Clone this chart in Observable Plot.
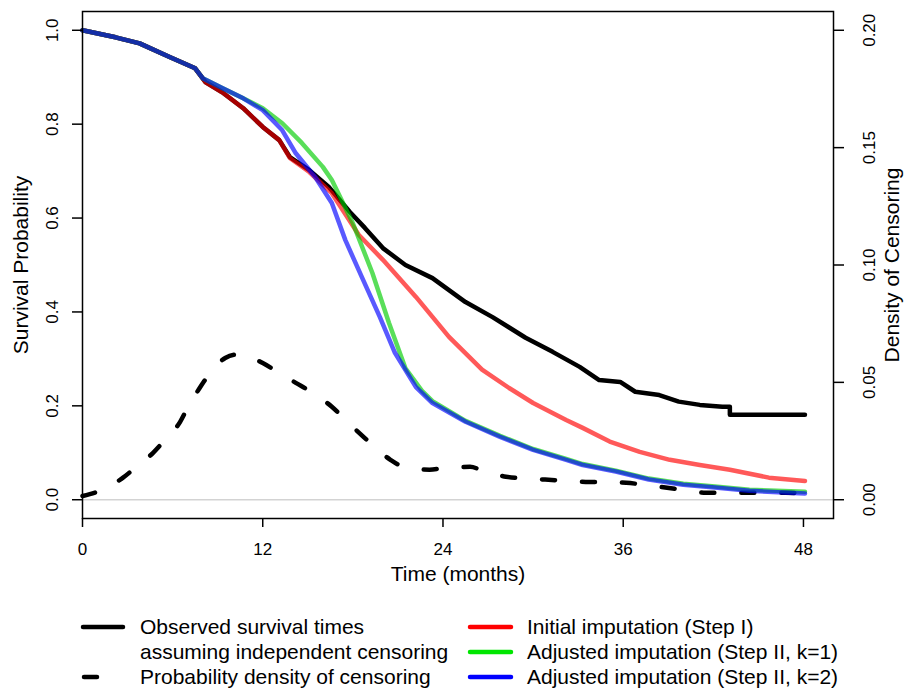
<!DOCTYPE html>
<html><head><meta charset="utf-8">
<script src="https://cdn.jsdelivr.net/npm/d3@7"></script>
<script src="https://cdn.jsdelivr.net/npm/@observablehq/plot@0.6"></script>
<style>
body{margin:0;background:#fff;font-family:"Liberation Sans",Arial,Helvetica,sans-serif;}
#wrap{position:relative;width:904px;height:689px;overflow:hidden;}
#legend{position:absolute;left:0;top:600px;width:904px;height:89px;}
.item{position:absolute;font-size:21px;line-height:24px;white-space:nowrap;color:#000;}
#legsvg{position:absolute;left:0;top:0;}
</style></head><body><div id="wrap"><div id="chart"></div><div id="legend"></div></div>
<script>
// ---- data ----
const xTicks = [0, 12, 24, 36, 48];
const yTicks = [0, 0.2, 0.4, 0.6, 0.8, 1.0];
const densityTicks = [0, 0.05, 0.10, 0.15, 0.20];
const densityToSurvival = 5; // right axis 0.20 corresponds to left axis 1.0

const observedTime = [0, 2.2, 3.8, 5.8, 7.5, 8.2, 9.3, 10.7, 12.0, 13.1, 13.8, 15.1, 16.4, 17.8, 18.8, 20.0, 21.5, 23.3, 25.5, 27.3, 29.5, 31.3, 33.1, 34.4, 35.8, 36.8, 38.4, 39.7, 41.1, 42.6, 43.1, 43.1, 48.1];
const observedSurv = [1.0, 0.985, 0.972, 0.943, 0.919, 0.889, 0.868, 0.834, 0.794, 0.766, 0.730, 0.702, 0.666, 0.613, 0.579, 0.536, 0.500, 0.472, 0.421, 0.389, 0.345, 0.315, 0.283, 0.255, 0.251, 0.230, 0.223, 0.209, 0.202, 0.198, 0.198, 0.181, 0.181];

const initialTime = [0, 2.2, 3.8, 5.8, 7.5, 8.2, 9.3, 10.7, 12.0, 13.1, 13.8, 15.1, 16.6, 18.4, 20.0, 22.2, 24.4, 26.6, 28.4, 30.0, 32.2, 33.3, 35.1, 37.1, 39.1, 41.1, 43.1, 45.7, 48.1];
const initialSurv = [1.0, 0.985, 0.972, 0.943, 0.919, 0.889, 0.868, 0.834, 0.794, 0.766, 0.728, 0.698, 0.653, 0.564, 0.511, 0.432, 0.347, 0.277, 0.238, 0.206, 0.170, 0.153, 0.124, 0.102, 0.085, 0.074, 0.064, 0.047, 0.040];

const adjusted1Time = [0, 2.2, 3.8, 5.8, 7.5, 8.0, 9.3, 10.7, 12.0, 13.3, 14.6, 16.0, 16.6, 18.0, 19.3, 20.4, 21.5, 22.6, 23.3, 25.5, 27.8, 30.0, 32.2, 33.3, 35.5, 37.7, 40.0, 42.1, 44.4, 48.1];
const adjusted1Surv = [1.0, 0.985, 0.972, 0.943, 0.919, 0.898, 0.877, 0.855, 0.834, 0.802, 0.760, 0.709, 0.681, 0.589, 0.483, 0.377, 0.280, 0.232, 0.210, 0.168, 0.136, 0.108, 0.087, 0.076, 0.062, 0.045, 0.034, 0.028, 0.021, 0.017];

const adjusted2Time = [0, 2.2, 3.8, 5.8, 7.5, 8.0, 9.3, 10.7, 12.0, 13.3, 14.2, 15.5, 16.6, 17.5, 18.6, 19.8, 20.8, 22.2, 23.3, 25.5, 27.8, 30.0, 32.2, 33.3, 35.5, 37.7, 40.0, 42.1, 44.4, 48.1];
const adjusted2Surv = [1.0, 0.985, 0.972, 0.943, 0.919, 0.898, 0.877, 0.855, 0.830, 0.787, 0.738, 0.687, 0.632, 0.553, 0.474, 0.389, 0.313, 0.240, 0.206, 0.166, 0.134, 0.106, 0.085, 0.074, 0.060, 0.043, 0.032, 0.026, 0.019, 0.013];

const densityTime = [0, 1.3, 2.7, 3.5, 4.7, 5.5, 6.5, 7.0, 7.8, 8.5, 9.5, 10.2, 10.7, 12.0, 13.1, 14.2, 15.3, 16.6, 17.3, 18.4, 19.3, 20.5, 21.4, 23.1, 24.2, 25.8, 26.8, 28.2, 29.5, 30.8, 32.2, 33.5, 34.8, 36.2, 37.4, 38.8, 40.0, 41.5, 42.6, 44.1, 45.4, 46.8, 48.1];
const densityValue = [0.0016, 0.0042, 0.0094, 0.0136, 0.0200, 0.0256, 0.0332, 0.0392, 0.0476, 0.0540, 0.0604, 0.0618, 0.0618, 0.0582, 0.0540, 0.0498, 0.0456, 0.0396, 0.0354, 0.0286, 0.0234, 0.0170, 0.0140, 0.0128, 0.0136, 0.0140, 0.0120, 0.0098, 0.0090, 0.0086, 0.0080, 0.0076, 0.0076, 0.0072, 0.0064, 0.0052, 0.0042, 0.0030, 0.0030, 0.0030, 0.0030, 0.0030, 0.0026];

const legendLeftLabels = ["Observed survival times", "assuming independent censoring", "Probability density of censoring"];
const legendRightLabels = ["Initial imputation (Step I)", "Adjusted imputation (Step II, k=1)", "Adjusted imputation (Step II, k=2)"];
const legendRightColors = ["#ff0000", "#00e600", "#0000ff"];

const xLabel = "Time (months)";
const yLabel = "Survival Probability";
const y2Label = "Density of Censoring";

// ---- build rows ----
const rows = (t, s) => t.map((d, i) => ({t: d, s: s[i]}));
const observedRows = rows(observedTime, observedSurv);
const initialRows = rows(initialTime, initialSurv);
const adj1Rows = rows(adjusted1Time, adjusted1Surv);
const adj2Rows = rows(adjusted2Time, adjusted2Surv);
const densityRows = rows(densityTime, densityValue);

const tickFont = 17;
const titleFont = 21;

const chart = Plot.plot({
  width: 904,
  height: 600,
  marginLeft: 82,
  marginRight: 71,
  marginTop: 11,
  marginBottom: 82,
  style: {fontFamily: '"Liberation Sans", Arial, Helvetica, sans-serif', background: "white", color: "black"},
  x: {domain: [0, 50]},
  y: {domain: [-0.04, 1.04]},
  marks: [
    Plot.ruleY([0], {stroke: "#d3d3d3", strokeWidth: 1.5}),
    Plot.line(densityRows, {x: "t", y: d => d.s * densityToSurvival, stroke: "black", strokeWidth: 4.5,
      strokeDasharray: "13,27", strokeLinecap: "round", curve: "monotone-x"}),
    Plot.line(observedRows, {x: "t", y: "s", stroke: "black", strokeWidth: 4.5, strokeLinejoin: "round"}),
    Plot.line(initialRows, {x: "t", y: "s", stroke: "#ff0000", strokeOpacity: 0.65, strokeWidth: 4.5, strokeLinejoin: "round"}),
    Plot.line(adj1Rows, {x: "t", y: "s", stroke: "#00cc00", strokeOpacity: 0.65, strokeWidth: 4.5, strokeLinejoin: "round"}),
    Plot.line(adj2Rows, {x: "t", y: "s", stroke: "#0000ff", strokeOpacity: 0.65, strokeWidth: 4.5, strokeLinejoin: "round"}),
    Plot.frame({stroke: "black", strokeWidth: 1.5}),
    Plot.axisX(xTicks, {anchor: "bottom", tickSize: 9, tickPadding: 15, tickFormat: d => String(d), fontSize: tickFont, label: null, strokeWidth: 1.5}),
    Plot.axisY(yTicks, {anchor: "left", tickSize: 10, tickFormat: () => "", label: null, strokeWidth: 1.5}),
    Plot.axisY(densityTicks.map(d => d * densityToSurvival), {anchor: "right", tickSize: 10, tickFormat: () => "", label: null, strokeWidth: 1.5}),
    Plot.text(yTicks, {y: d => d, text: d => d.toFixed(1), frameAnchor: "left", textAnchor: "middle", dx: -30, rotate: -90, fontSize: tickFont}),
    Plot.text(densityTicks, {y: d => d * densityToSurvival, text: d => d.toFixed(2), frameAnchor: "right", textAnchor: "middle", dx: 36, rotate: -90, fontSize: tickFont}),
    Plot.text([xLabel], {text: d => d, frameAnchor: "bottom", dy: 62, fontSize: titleFont}),
    Plot.text([yLabel], {text: d => d, frameAnchor: "left", textAnchor: "middle", dx: -61, rotate: -90, fontSize: titleFont}),
    Plot.text([y2Label], {text: d => d, frameAnchor: "right", textAnchor: "middle", dx: 59, rotate: -90, fontSize: titleFont})
  ]
});
document.getElementById("chart").appendChild(chart);

// ---- legend ----
const legend = document.getElementById("legend");
const NS = "http://www.w3.org/2000/svg";
const lsvg = document.createElementNS(NS, "svg");
lsvg.setAttribute("id", "legsvg");
lsvg.setAttribute("width", 904);
lsvg.setAttribute("height", 89);
legend.appendChild(lsvg);
const rowY = [27, 52, 77];
function seg(x1, x2, y, color) {
  const l = document.createElementNS(NS, "line");
  l.setAttribute("x1", x1); l.setAttribute("x2", x2);
  l.setAttribute("y1", y); l.setAttribute("y2", y);
  l.setAttribute("stroke", color); l.setAttribute("stroke-width", 4.5);
  l.setAttribute("stroke-linecap", "round");
  lsvg.appendChild(l);
}
function label(x, y, txt) {
  const s = document.createElement("div");
  s.className = "item";
  s.style.left = x + "px";
  s.style.top = (y - 12) + "px";
  s.textContent = txt;
  legend.appendChild(s);
}
seg(83, 123, rowY[0], "black");
seg(84, 97, rowY[2], "black");
legendLeftLabels.forEach((t, i) => label(140, rowY[i], t));
legendRightLabels.forEach((t, i) => {
  seg(470, 511, rowY[i], legendRightColors[i]);
  label(527, rowY[i], t);
});
</script></body></html>
